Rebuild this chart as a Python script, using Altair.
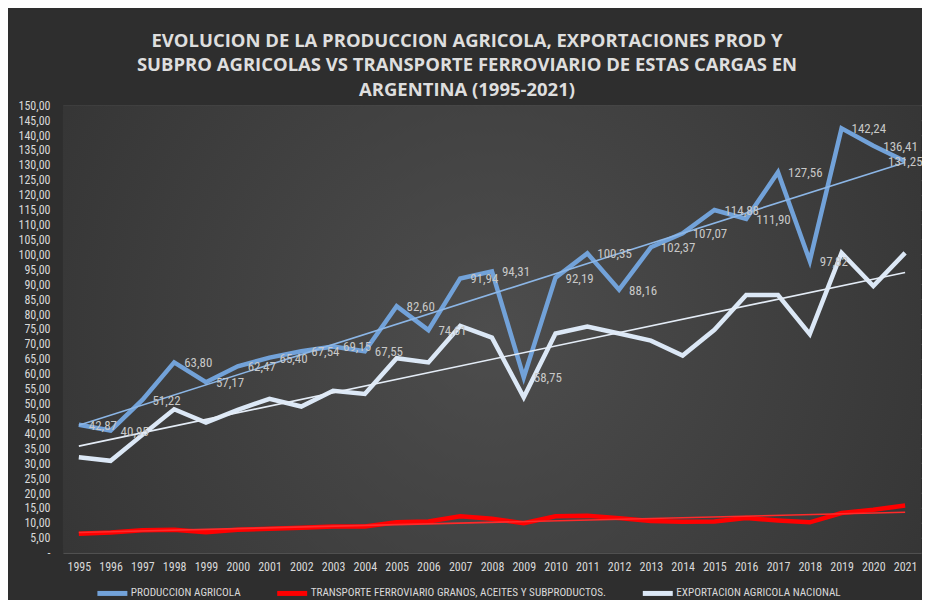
import altair as alt
import pandas as pd

years = list(range(1995, 2022))

produccion = [42.87, 40.95, 51.22, 63.80, 57.17, 62.47, 65.40, 67.54, 69.15, 67.55,
              82.60, 74.61, 91.94, 94.31, 58.75, 92.19, 100.35, 88.16, 102.37, 107.07,
              114.88, 111.90, 127.56, 97.82, 142.24, 136.41, 131.25]

transporte = [6.4, 6.8, 7.5, 7.7, 6.9, 7.7, 8.0, 8.4, 8.8, 8.8,
              10.2, 10.5, 12.2, 11.4, 9.9, 12.2, 12.4, 11.6, 10.6, 10.4,
              10.5, 11.6, 10.8, 10.2, 13.3, 14.4, 15.8]

exportacion = [32.0, 30.8, 39.5, 48.1, 43.6, 47.9, 51.6, 49.0, 54.3, 53.2,
               65.2, 63.8, 76.0, 72.1, 52.1, 73.5, 75.8, 73.5, 71.1, 66.1,
               74.7, 86.4, 86.4, 73.3, 100.5, 89.4, 100.5]

series_names = ["PRODUCCION AGRICOLA",
                "TRANSPORTE FERROVIARIO GRANOS, ACEITES Y SUBPRODUCTOS.",
                "EXPORTACION AGRICOLA NACIONAL"]
series_colors = ["#72a2d9", "#ff0000", "#dce8f6"]
trend_colors = ["#8cb6e6", "#ff2a2a", "#e4ecf6"]

title_lines = ["EVOLUCION DE LA PRODUCCION AGRICOLA, EXPORTACIONES PROD Y",
               "SUBPRO AGRICOLAS VS TRANSPORTE FERROVIARIO DE ESTAS CARGAS EN",
               "ARGENTINA (1995-2021)"]

rows = []
for name, vals in zip(series_names, [produccion, transporte, exportacion]):
    for y, v in zip(years, vals):
        rows.append({"year": y, "value": v, "serie": name})
df = pd.DataFrame(rows)

narrow = "Liberation Sans Narrow, Roboto Condensed, Open Sans, sans-serif"

W, H = 859, 448

x_scale = alt.Scale(domain=[1994.5, 2021.5], nice=False, zero=False)
x_axis = alt.Axis(values=years, format="d", grid=False, domain=False, ticks=False,
                  labelOverlap=False, labelFlush=False, labelPadding=9,
                  labelColor="#d9d9d9", labelFont=narrow, labelFontSize=12,
                  title=None)
y_scale = alt.Scale(domain=[0, 150], nice=False)
y_axis = alt.Axis(values=list(range(0, 151, 5)), grid=True, gridColor="#5e5e5e",
                  gridWidth=1, domain=False, ticks=False, labelPadding=13,
                  labelOverlap=False, labelFlush=False,
                  labelColor="#d9d9d9", labelFont=narrow, labelFontSize=12,
                  labelExpr="datum.value == 0 ? '-' : replace(format(datum.value, '.2f'), '.', ',')",
                  title=None)

x_enc = alt.X("year:Q", scale=x_scale, axis=x_axis)
y_enc = alt.Y("value:Q", scale=y_scale, axis=y_axis)

bg = alt.Chart(pd.DataFrame({"k": [0]})).mark_rect(
    color={"gradient": "radial", "x1": 0.5, "y1": 0.5, "x2": 0.5, "y2": 0.5,
           "r1": 0, "r2": 0.75,
           "stops": [{"offset": 0, "color": "#4d4d4d"}, {"offset": 1, "color": "#2e2e2e"}]}
).encode(x=alt.value(0), x2=alt.value(W), y=alt.value(0), y2=alt.value(H))

base = alt.Chart(df)

lines = base.mark_line(strokeWidth=4.5, strokeJoin="miter").encode(
    x=x_enc, y=y_enc,
    color=alt.Color("serie:N",
                    scale=alt.Scale(domain=series_names, range=series_colors),
                    sort=series_names,
                    legend=alt.Legend(orient="none", legendX=32, legendY=471,
                                      title=None, direction="horizontal",
                                      symbolType="stroke", symbolSize=900, symbolStrokeWidth=5,
                                      labelColor="#d9d9d9", labelFont=narrow, labelFontSize=11.2,
                                      columnPadding=26, symbolOffset=0, labelOffset=1,
                                      padding=0, labelLimit=400)),
    order=alt.Order("year:Q"),
)

trends = []
for name, col in zip(series_names, trend_colors):
    t = base.transform_filter(alt.datum.serie == name).transform_regression(
        "year", "value", method="linear"
    ).mark_line(strokeWidth=1.6, color=col).encode(x=x_enc, y=y_enc)
    trends.append(t)

labels = base.transform_filter(alt.datum.serie == series_names[0]).transform_calculate(
    lab="replace(format(datum.value, '.2f'), '.', ',')",
    lx="datum.year == 2021 ? datum.year - 0.85 : datum.year",
).mark_text(align="left", baseline="middle", dx=10, dy=1, color="#c8c8c8",
            font=narrow, fontSize=13).encode(
    x=alt.X("lx:Q", scale=x_scale, axis=x_axis),
    y=y_enc, text="lab:N")

chart = alt.layer(bg, lines, *trends, labels).properties(
    width=W, height=H,
    autosize=alt.AutoSizeParams(type="none"),
    padding={"left": 55, "top": 97, "right": 1, "bottom": 47},
    background="#2e2e2e",
    title=alt.TitleParams(text=title_lines, anchor="middle", frame="group", dx=-25,
                          font="Open Sans", fontSize=18.5, fontWeight="bold",
                          color="#dedede", lineHeight=24.5, offset=0),
).configure_view(strokeWidth=0)

chart.save("out.html", embed_options={"renderer": "svg", "actions": False})
